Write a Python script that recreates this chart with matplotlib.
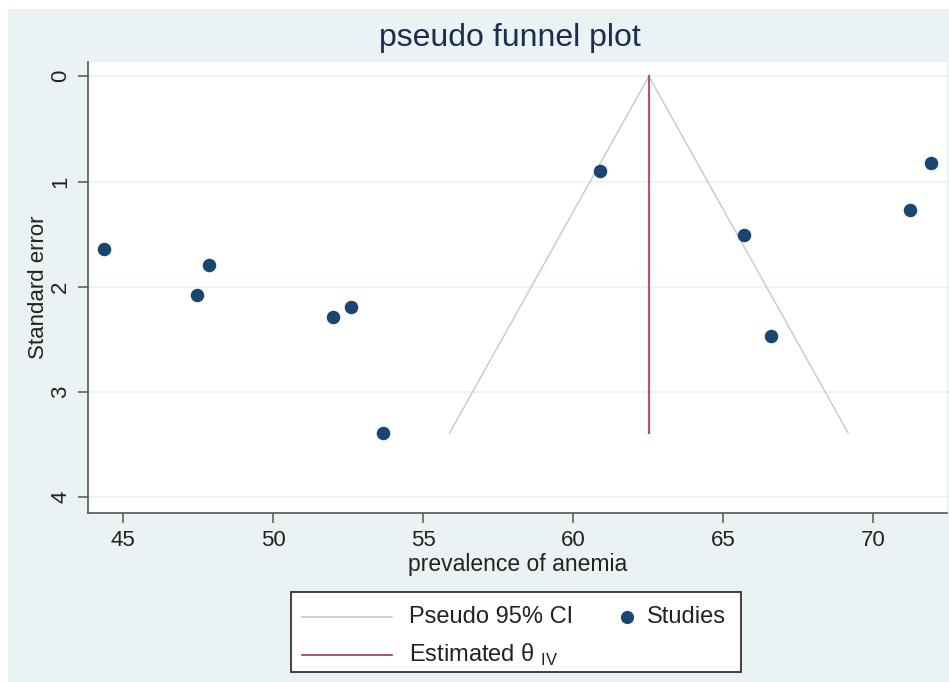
#pseudo funnel plot of anemia prevalence studies (Stata-style look)
import numpy as np
import matplotlib.pyplot as plt
from matplotlib.patches import Rectangle
from matplotlib.lines import Line2D

plt.rcParams['font.family'] = ['Liberation Sans', 'DejaVu Sans']
plt.rcParams['mathtext.fontset'] = 'custom'
plt.rcParams['mathtext.rm'] = 'Liberation Sans'

#study values
prevalence = [44.37, 47.46, 47.88, 51.99, 52.59, 53.68, 60.90, 65.71, 66.60, 71.23, 71.93]
std_err = [1.64, 2.08, 1.79, 2.29, 2.19, 3.39, 0.90, 1.51, 2.47, 1.27, 0.82]

#pooled estimate (inverse variance) and axis ticks
theta_iv = 62.53
z95 = 1.96
x_ticks = [45, 50, 55, 60, 65, 70]
y_ticks = [0, 1, 2, 3, 4]

bg = '#eaf2f3'
navy = '#1a476f'
ci_col = '#c8c8c8'
est_col = '#b5546f'
txt = '#222222'

fig = plt.figure(figsize=(9.49, 6.82), dpi=100)
fig.patch.set_facecolor('white')
#light outer region, leaving a thin white margin like the reference
fig.add_artist(Rectangle((8/949, 0), 1, 1 - 9/682, transform=fig.transFigure,
                         facecolor=bg, edgecolor='none', zorder=-10))

ax = fig.add_axes([88/949, 1 - 513/682, (947 - 88)/949, (513 - 62)/682])
ax.set_facecolor('white')

#funnel lines: pooled estimate +/- 1.96*se, from se=0 down to the largest se
se_max = max(std_err)
se_line = np.array([0, se_max])
ax.plot(theta_iv - z95*se_line, se_line, color=ci_col, lw=1.0, zorder=2)
ax.plot(theta_iv + z95*se_line, se_line, color=ci_col, lw=1.0, zorder=2)
ax.plot([theta_iv, theta_iv], [0, se_max], color=est_col, lw=1.6, zorder=3)

ax.scatter(prevalence, std_err, s=95, color=navy, zorder=4, linewidths=0)

ax.set_xlim(43.83, 72.47)
ax.set_ylim(4.15, -0.136)
ax.set_xticks(x_ticks)
ax.set_yticks(y_ticks)
ax.grid(axis='y', color=bg, lw=1.2)
ax.set_axisbelow(True)

for s in ['top', 'right']:
    ax.spines[s].set_visible(False)
for s in ['left', 'bottom']:
    ax.spines[s].set_color('#555555')
    ax.spines[s].set_linewidth(1.2)

ax.tick_params(axis='both', direction='out', length=7, width=1.1, color='#555555',
               labelsize=16, labelcolor=txt, pad=5)
for lbl in ax.get_yticklabels():
    lbl.set_rotation(90)
    lbl.set_va('center')

ax.set_xlabel('prevalence of anemia', fontsize=16.5, color=txt, labelpad=2)
ax.set_ylabel('Standard error', fontsize=16, color=txt, labelpad=1)

fig.text(0.537, 1 - 38/682, 'pseudo funnel plot', ha='center', va='center',
         fontsize=23, color='#1e2d4f')

#legend box drawn by hand so the marker column sits like the Stata one
W, H = 949.0, 682.0
fig.add_artist(Rectangle((291/W, 1 - 672/H), 450/W, 80/H, transform=fig.transFigure,
                         facecolor='white', edgecolor=txt, lw=1.2, zorder=5))
row1, row2 = 1 - 617/H, 1 - 655/H
fig.add_artist(Line2D([302/W, 392/W], [row1, row1], transform=fig.transFigure,
                      color=ci_col, lw=1.2, zorder=6))
fig.add_artist(Line2D([302/W, 392/W], [row2, row2], transform=fig.transFigure,
                      color='#9a3a4a', lw=1.2, zorder=6))
fig.add_artist(Line2D([627/W], [row1], transform=fig.transFigure, marker='o',
                      ls='none', ms=9.5, color=navy, mec='none', zorder=6))
fig.text(409/W, row1, 'Pseudo 95% CI', ha='left', va='center', fontsize=17,
         color=txt, zorder=7)
fig.text(647/W, row1, 'Studies', ha='left', va='center', fontsize=17,
         color=txt, zorder=7)
fig.text(409/W, row2, 'Estimated θ $_{\\rm IV}$', ha='left', va='center',
         fontsize=17, color=txt, zorder=7)

plt.savefig('out.png', dpi=100, facecolor=fig.get_facecolor())
